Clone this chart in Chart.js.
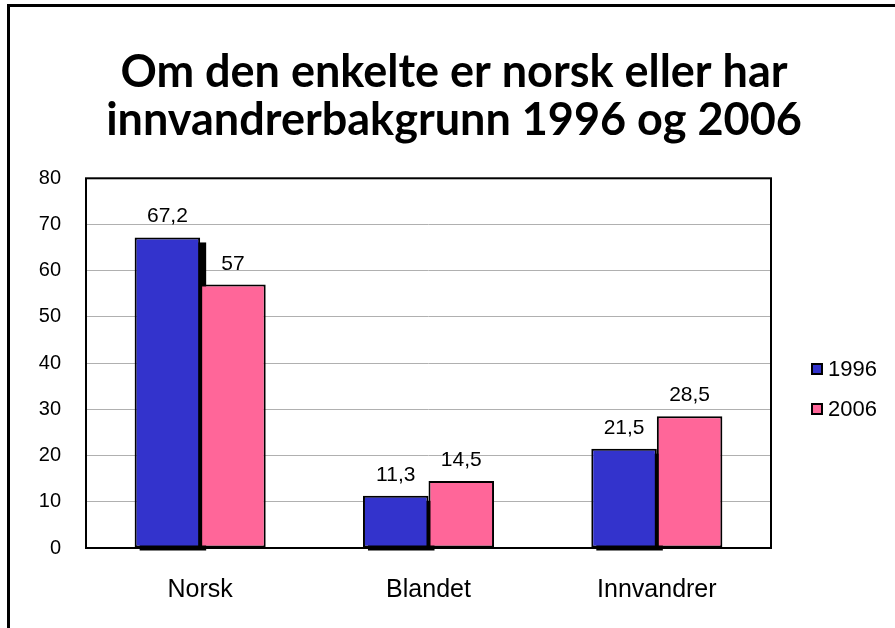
<!DOCTYPE html>
<html>
<head>
<meta charset="utf-8">
<script src="https://cdn.jsdelivr.net/npm/chart.js@4.4.0/dist/chart.umd.min.js"></script>
<style>
    html, body { margin: 0; padding: 0; background: #fff; }
    #wrap { width: 895px; height: 628px; }
</style>
</head>
<body>
<div id="wrap"><canvas id="innvChart" width="895" height="628"></canvas></div>
<script>
// data
const categories = ['Norsk', 'Blandet', 'Innvandrer'];
const seriesNames = ['1996', '2006'];
const values1996 = [67.2, 11.3, 21.5];
const values2006 = [57, 14.5, 28.5];
const yTicks = [0, 10, 20, 30, 40, 50, 60, 70, 80];

const blue = '#3333CC';
const pink = '#FF6699';

// outer frame + white background, plot box
const framePlugin = {
    id: 'frame',
    beforeDraw(chart) {
        const ctx = chart.ctx;
        ctx.save();
        ctx.fillStyle = '#fff';
        ctx.fillRect(0, 0, chart.width, chart.height);
        ctx.strokeStyle = '#000';
        ctx.lineWidth = 3;
        ctx.beginPath();
        ctx.moveTo(8.5, chart.height);
        ctx.lineTo(8.5, 5.5);
        ctx.lineTo(chart.width, 5.5);
        ctx.stroke();
        ctx.restore();
    },
    beforeDatasetsDraw(chart) {
        const a = chart.chartArea;
        const ctx = chart.ctx;
        ctx.save();
        ctx.strokeStyle = '#000';
        ctx.lineWidth = 2;
        ctx.strokeRect(a.left, a.top, a.width, a.height);

        // flat black shadow behind the 1996 bars
        const meta = chart.getDatasetMeta(0);
        ctx.fillStyle = '#000';
        meta.data.forEach(bar => {
            const p = bar.getProps(['x', 'y', 'base', 'width'], true);
            ctx.fillRect(p.x - p.width / 2 + 5, p.y + 5, p.width + 1, p.base - p.y - 2);
        });
        ctx.restore();
    }
};

// value labels above the bars, with decimal comma
const valueLabels = {
    id: 'valueLabels',
    afterDatasetsDraw(chart) {
        const ctx = chart.ctx;
        ctx.save();
        ctx.font = '21px "Liberation Sans", Arial, sans-serif';
        ctx.fillStyle = '#000';
        ctx.textAlign = 'center';
        ctx.textBaseline = 'alphabetic';
        chart.data.datasets.forEach((ds, i) => {
            chart.getDatasetMeta(i).data.forEach((bar, j) => {
                const txt = String(ds.data[j]).replace('.', ',');
                ctx.fillText(txt, bar.x, bar.y - 15);
            });
        });
        ctx.restore();
    }
};

// legend drawn at the right like the original
const sideLegend = {
    id: 'sideLegend',
    afterDraw(chart) {
        const ctx = chart.ctx;
        ctx.save();
        ctx.font = '22px "Liberation Sans", Arial, sans-serif';
        ctx.textBaseline = 'middle';
        ctx.textAlign = 'left';
        chart.data.datasets.forEach((ds, i) => {
            const y = 370 + i * 40;
            ctx.fillStyle = ds.backgroundColor;
            ctx.fillRect(812, y - 6, 10, 10);
            ctx.strokeStyle = '#000';
            ctx.lineWidth = 2;
            ctx.strokeRect(812, y - 6, 10, 10);
            ctx.fillStyle = '#000';
            ctx.fillText(ds.label, 828, y);
        });
        ctx.restore();
    }
};

const barData = {
    labels: categories,
    datasets: [
        {
            label: seriesNames[0],
            data: values1996,
            backgroundColor: blue,
            borderColor: '#000',
            borderWidth: 2,
            borderSkipped: false,
            categoryPercentage: 0.574,
            barPercentage: 1,
        },
        {
            label: seriesNames[1],
            data: values2006,
            backgroundColor: pink,
            borderColor: '#000',
            borderWidth: 2,
            borderSkipped: false,
            categoryPercentage: 0.574,
            barPercentage: 1,
        },
    ],
};

const barConfig = {
    type: 'bar',
    data: barData,
    options: {
        responsive: false,
        animation: false,
        layout: {
            padding: { left: 13, right: 0, top: 0, bottom: 0 },
        },
        plugins: {
            legend: { display: false },
            tooltip: { enabled: false },
            title: {
                display: true,
                text: ['Om den enkelte er norsk eller har', 'innvandrerbakgrunn 1996 og 2006'],
                color: '#000',
                font: { family: 'Lato, "Open Sans", sans-serif', size: 45, weight: 'bold', lineHeight: 1.07 },
                padding: { top: 48, bottom: 34 },
            },
        },
        scales: {
            y: {
                min: yTicks[0],
                max: yTicks[yTicks.length - 1],
                afterFit: s => { s.width = 73; },
                border: { display: false },
                grid: { color: '#b0b0b0', lineWidth: 1, drawTicks: false },
                ticks: {
                    stepSize: yTicks[1] - yTicks[0],
                    padding: 25,
                    color: '#000',
                    font: { family: '"Liberation Sans", Arial, sans-serif', size: 20 },
                },
            },
            // empty right-hand strip that keeps room for the legend
            side: {
                type: 'linear',
                position: 'right',
                display: true,
                afterFit: s => { s.width = 124; },
                border: { display: false },
                grid: { display: false },
                ticks: { display: false },
            },
            x: {
                afterFit: s => { s.height = 80; },
                border: { display: false },
                grid: { display: false, drawTicks: false },
                ticks: {
                    padding: 27,
                    color: '#000',
                    font: { family: '"Liberation Sans", Arial, sans-serif', size: 25 },
                },
            },
        },
    },
    plugins: [framePlugin, valueLabels, sideLegend],
};

const barCtx = document.getElementById('innvChart').getContext('2d');
const innvChart = new Chart(barCtx, barConfig);
</script>
</body>
</html>
